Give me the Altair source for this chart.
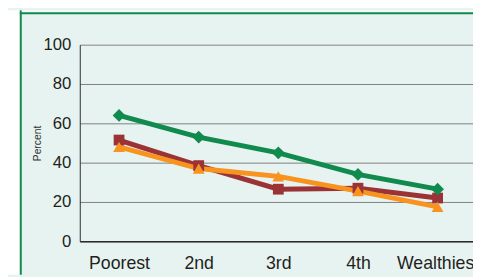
import altair as alt
import pandas as pd

categories = ["Poorest", "2nd", "3rd", "4th", "Wealthiest"]
series_names = ["Series A", "Series B", "Series C"]
series_a = [51.5, 38.5, 26.5, 27, 22]      # dark red, squares
series_b = [48, 37, 33, 25.5, 17.5]        # orange, triangles
series_c = [64, 53, 45, 34, 26.5]          # green, diamonds
y_ticks = [0, 20, 40, 60, 80, 100]

colors = ["#9b3236", "#f7931e", "#118a4e"]
shapes = ["square", "triangle-up", "diamond"]
marker_sizes = [120, 170, 160]

rows = []
for name, vals in zip(series_names, [series_a, series_b, series_c]):
    for i, (c, v) in enumerate(zip(categories, vals)):
        rows.append({"group": c, "series": name, "value": v, "order": i})
df = pd.DataFrame(rows)

W, H = 400, 200
BOTTOM = 34
PAD = {"left": 73, "top": 35, "right": 0, "bottom": BOTTOM}

x_enc = alt.X("group:N", sort=categories,
              scale=alt.Scale(type="point", padding=0.469, align=0.526),
              axis=alt.Axis(title=None, ticks=False, grid=False, labelAngle=0,
                            labelPadding=14, labelFontSize=18, labelColor="#231f20",
                            labelFont="Liberation Sans", domainColor="#2b2b2b",
                            domainWidth=1.5, labelOverlap=False))
y_enc = alt.Y("value:Q", scale=alt.Scale(domain=[0, 100], nice=False),
              axis=alt.Axis(title="Percent", values=y_ticks, tickCount=12, grid=True,
                            gridColor="#808080", gridWidth=1, ticks=False,
                            labelOverlap=False,
                            labelPadding=9, labelFontSize=17, labelColor="#231f20",
                            labelFont="Liberation Sans", domainColor="#2b2b2b",
                            domainWidth=1, titleFont="Liberation Sans",
                            titleFontSize=10.5, titleFontWeight="normal",
                            titleColor="#333333", titleX=-43, titleY=100,
                            titleAngle=270, titleAlign="center",
                            titleBaseline="middle"))
color_enc = alt.Color("series:N", scale=alt.Scale(domain=series_names, range=colors),
                      legend=None)
shape_enc = alt.Shape("series:N", scale=alt.Scale(domain=series_names, range=shapes),
                      legend=None)
size_enc = alt.Size("series:N", scale=alt.Scale(domain=series_names, range=marker_sizes),
                    legend=None)

lines = alt.Chart(df).mark_line(strokeWidth=5).encode(
    x=x_enc, y=y_enc, color=color_enc, order="order:Q",
    detail="series:N")
points = alt.Chart(df).mark_point(filled=True, opacity=1).encode(
    x=x_enc, y=y_enc, color=color_enc, shape=shape_enc, size=size_enc)

one = pd.DataFrame({"a": [0]})
white_strip = alt.Chart(one).mark_rect(color="white").encode(
    x=alt.value(-73), x2=alt.value(-61), y=alt.value(-35), y2=alt.value(H + BOTTOM))
green_v = alt.Chart(one).mark_rect(color="#118a4e").encode(
    x=alt.value(-61), x2=alt.value(-59), y=alt.value(-35), y2=alt.value(H + BOTTOM))
top_band = alt.Chart(one).mark_rect(color="#f4faf9").encode(
    x=alt.value(-59), x2=alt.value(W), y=alt.value(-35), y2=alt.value(-33))
green_h = alt.Chart(one).mark_rect(color="#118a4e").encode(
    x=alt.value(-61), x2=alt.value(W), y=alt.value(-33), y2=alt.value(-31))

chart = alt.layer(lines, points, white_strip, green_v, top_band, green_h).properties(
    width=W, height=H,
    autosize=alt.AutoSizeParams(type="none"),
    padding=PAD,
    background="#e7f3f1",
).configure_view(stroke=None, fill="#e7f3f1")

chart.save("out.html", embed_options={"renderer": "svg", "actions": False})
